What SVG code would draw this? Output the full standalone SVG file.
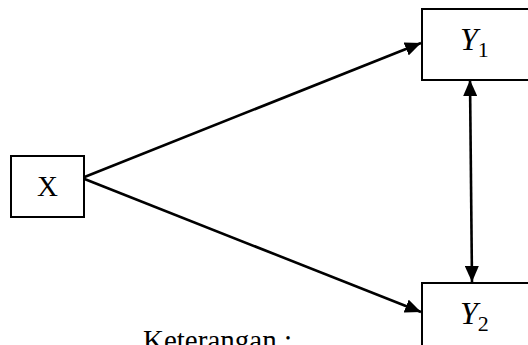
<svg xmlns="http://www.w3.org/2000/svg" width="528" height="345" viewBox="0 0 528 345">
<style>
.box{fill:#fff;stroke:#000;stroke-width:2}
.t{font-family:"Liberation Serif","Times New Roman",serif;fill:#000}
.v{font-style:italic;font-size:32px}
.sub{font-size:22px;font-style:normal}
.ln{stroke:#000;stroke-width:2.6;fill:none}
</style>
<defs>
<marker id="ah" markerUnits="userSpaceOnUse" markerWidth="17" markerHeight="14" refX="16" refY="7" orient="auto-start-reverse">
<path d="M0,0 L16,7 L0,14 Z" fill="#000"/>
</marker>
</defs>
<g id="connectors">
<line class="ln" x1="82" y1="178" x2="421" y2="43" marker-end="url(#ah)"/>
<line class="ln" x1="82" y1="178" x2="421" y2="312" marker-end="url(#ah)"/>
<line class="ln" x1="470" y1="80" x2="472" y2="282" marker-start="url(#ah)" marker-end="url(#ah)"/>
</g>
<g id="nodeX">
<rect class="box" x="11" y="156" width="73" height="61"/>
<text class="t" x="47.5" y="196" font-size="29" text-anchor="middle">X</text>
</g>
<g id="nodeY1">
<rect class="box" x="422" y="9" width="110" height="71"/>
<text class="t v" x="460" y="50">Y<tspan class="sub" dy="7">1</tspan></text>
</g>
<g id="nodeY2">
<rect class="box" x="422" y="283" width="110" height="70"/>
<text class="t v" x="460" y="324">Y<tspan class="sub" dy="7">2</tspan></text>
</g>
<text class="t" x="143" y="350" font-size="29">Keterangan :</text>
</svg>
